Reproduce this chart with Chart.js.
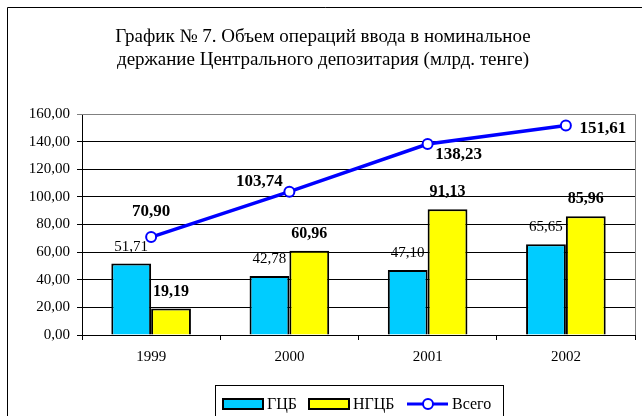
<!DOCTYPE html>
<html><head><meta charset="utf-8">
<script src="https://cdn.jsdelivr.net/npm/chart.js@4"></script>
<style>html,body{margin:0;padding:0;background:#fff;}#c{display:block;}</style>
</head><body>
<canvas id="c" width="642" height="416"></canvas>
<script>
const categories = ['1999', '2000', '2001', '2002'];
const gcb = [51.71, 42.78, 47.10, 65.65];
const ngcb = [19.19, 60.96, 91.13, 85.96];
const total = [70.90, 103.74, 138.23, 151.61];
const seriesNames = ['ГЦБ', 'НГЦБ', 'Всего'];
const titleLines = ['График № 7. Объем операций ввода в номинальное', 'держание Центрального депозитария (млрд. тенге)'];
const yMin = 0, yMax = 160, yStep = 20;

const FONT = "'Liberation Serif', 'Times New Roman', serif";
const fmt = v => v.toFixed(2).replace('.', ',');
// label offsets for the total series (style only)
const totalLabelOffsets = [[0, -25], [-30, -10], [31, 11], [37, 3]];

const decor = {
  id: 'decor',
  beforeDraw(chart) {
    const ctx = chart.ctx;
    ctx.save();
    ctx.fillStyle = '#fff';
    ctx.fillRect(0, 0, chart.width, chart.height);
    ctx.strokeStyle = '#000'; ctx.lineWidth = 1;
    ctx.beginPath();
    ctx.moveTo(7.5, 420); ctx.lineTo(7.5, 7.5); ctx.lineTo(650, 7.5);
    ctx.stroke();
    ctx.fillStyle = '#000';
    ctx.font = '19px ' + FONT;
    ctx.textAlign = 'center'; ctx.textBaseline = 'middle';
    ctx.fillText(titleLines[0], 323, 37);
    ctx.fillText(titleLines[1], 323, 60);
    ctx.restore();
  },
  afterDraw(chart) {
    const ctx = chart.ctx;
    const a = chart.chartArea;
    ctx.save();
    ctx.strokeStyle = '#808080'; ctx.lineWidth = 1;
    ctx.beginPath();
    ctx.moveTo(a.left, Math.round(a.top) + 0.5);
    ctx.lineTo(Math.round(a.right) + 0.5, Math.round(a.top) + 0.5);
    ctx.lineTo(Math.round(a.right) + 0.5, a.bottom);
    ctx.stroke();
    ctx.fillStyle = '#000';
    ctx.textAlign = 'center'; ctx.textBaseline = 'middle';
    chart.data.datasets.forEach((ds, di) => {
      const meta = chart.getDatasetMeta(di);
      meta.data.forEach((el, i) => {
        const v = ds.data[i];
        if (ds.type === 'line') {
          ctx.font = 'bold 17px ' + FONT;
          const o = totalLabelOffsets[i];
          ctx.fillText(fmt(v), el.x + o[0], el.y + o[1]);
        } else {
          ctx.font = (ds.labelBold ? 'bold 16px ' : '15px ') + FONT;
          ctx.fillText(fmt(v), el.x, el.y - 17);
        }
      });
    });
    ctx.strokeStyle = '#000'; ctx.lineWidth = 1;
    ctx.fillStyle = '#fff';
    ctx.fillRect(215, 385, 288, 40);
    ctx.strokeRect(215.5, 385.5, 288, 40);
    const ly = 404;
    const bars = chart.data.datasets.filter(d => d.type === 'bar');
    const line = chart.data.datasets.find(d => d.type === 'line');
    const items = [[223, bars[0]], [309, bars[1]]];
    ctx.font = '16px ' + FONT;
    ctx.textAlign = 'left';
    items.forEach(([x, d]) => {
      ctx.fillStyle = d.backgroundColor;
      ctx.fillRect(x, ly - 5, 40, 10);
      ctx.lineWidth = 2; ctx.strokeStyle = '#000';
      ctx.strokeRect(x, ly - 5, 40, 10);
      ctx.fillStyle = '#000';
      ctx.fillText(d.label, x + 44, ly + 1);
    });
    ctx.strokeStyle = line.borderColor; ctx.lineWidth = 3;
    ctx.beginPath(); ctx.moveTo(407, ly); ctx.lineTo(448, ly); ctx.stroke();
    ctx.beginPath(); ctx.arc(428, ly, 5, 0, Math.PI * 2);
    ctx.fillStyle = '#fff'; ctx.fill(); ctx.lineWidth = 2; ctx.stroke();
    ctx.fillStyle = '#000';
    ctx.fillText(line.label, 452, ly + 1);
    ctx.restore();
  }
};

new Chart(document.getElementById('c'), {
  data: {
    labels: categories,
    datasets: [
      { type: 'line', label: seriesNames[2], data: total, order: 0,
        borderColor: '#0000ff', borderWidth: 3.5, tension: 0,
        pointRadius: 5, pointBackgroundColor: '#fff', pointBorderColor: '#0000ff', pointBorderWidth: 2 },
      { type: 'bar', label: seriesNames[0], data: gcb, order: 1,
        backgroundColor: '#00ccff', borderColor: '#000', borderWidth: 2,
        categoryPercentage: 0.576, barPercentage: 1 },
      { type: 'bar', label: seriesNames[1], data: ngcb, order: 1, labelBold: true,
        backgroundColor: '#ffff00', borderColor: '#000', borderWidth: 2,
        categoryPercentage: 0.576, barPercentage: 1 }
    ]
  },
  options: {
    responsive: false, animation: false,
    layout: { padding: { left: 7, right: 4, top: 114, bottom: 0 } },
    plugins: { legend: { display: false }, tooltip: { enabled: false }, title: { display: false } },
    scales: {
      x: {
        offset: true,
        grid: { drawOnChartArea: false, drawTicks: true, tickLength: 5, color: '#000', offset: true },
        border: { color: '#000', width: 1 },
        ticks: { color: '#000', font: { family: FONT, size: 15 }, padding: 8 },
        afterFit(s) { s.height = 81; }
      },
      y: {
        min: yMin, max: yMax,
        grid: { color: c => c.tick && c.tick.value === yMax ? '#808080' : '#000', tickLength: 5, drawTicks: true },
        border: { color: '#000', width: 1 },
        ticks: { stepSize: yStep, color: '#000', font: { family: FONT, size: 15 }, padding: 7, callback: v => fmt(v) },
        afterFit(s) { s.width = 75; }
      }
    }
  },
  plugins: [decor]
});
</script>
</body></html>
